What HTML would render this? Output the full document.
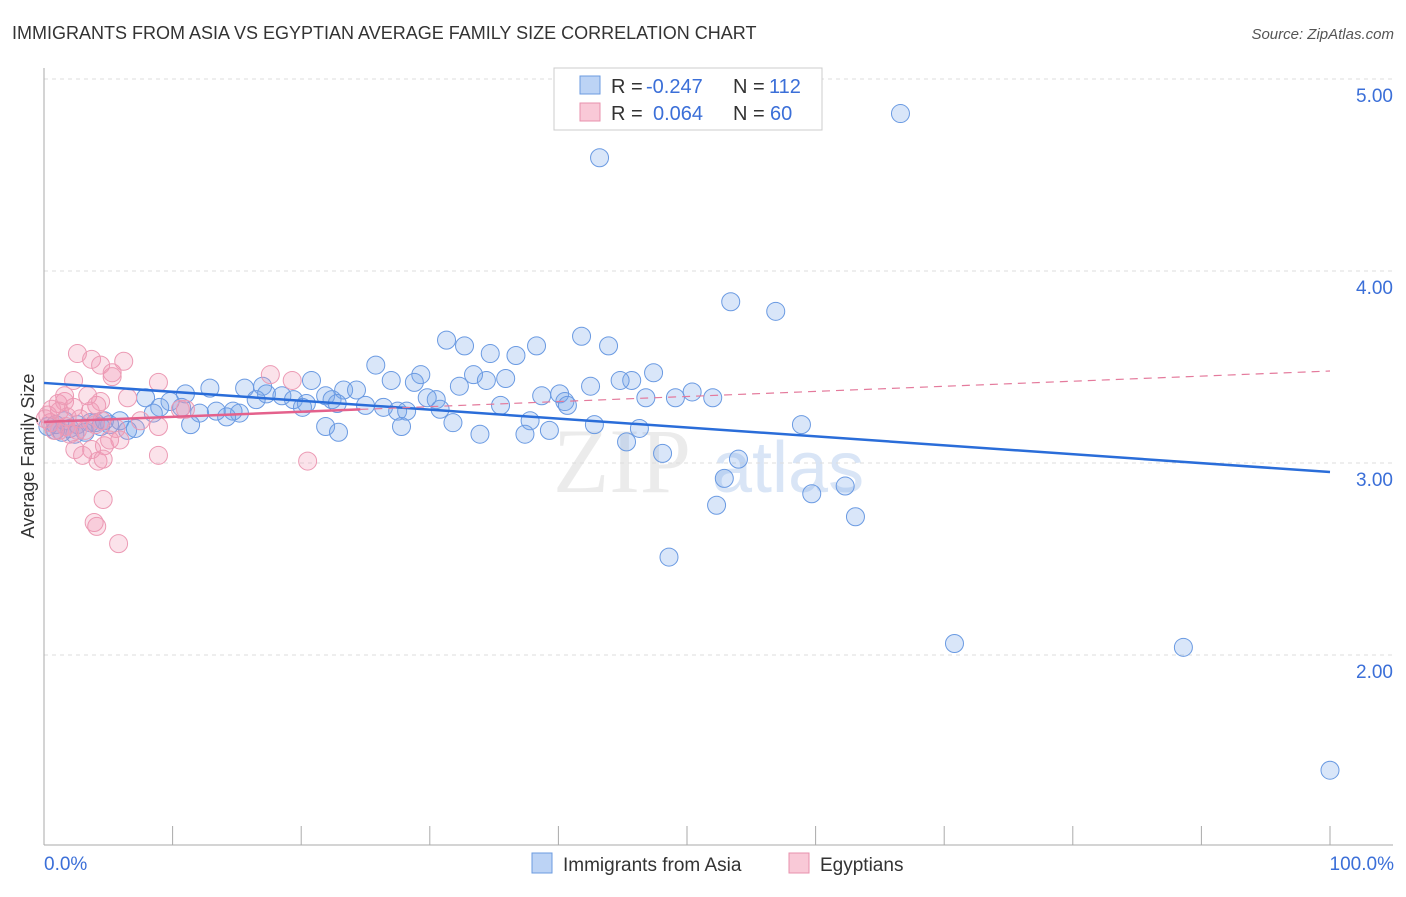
<!DOCTYPE html>
<html><head><meta charset="utf-8"><style>
body{margin:0;background:#fff;font-family:"Liberation Sans",sans-serif}
</style></head><body>
<svg width="1406" height="892" xmlns="http://www.w3.org/2000/svg" id="svg" font-family="Liberation Sans, sans-serif">
<text x="12" y="39" font-size="18" fill="#333">IMMIGRANTS FROM ASIA VS EGYPTIAN AVERAGE FAMILY SIZE CORRELATION CHART</text>
<text x="1394" y="39" font-size="15" fill="#555" font-style="italic" text-anchor="end">Source: ZipAtlas.com</text>
<g><text x="553" y="492" font-size="92" font-family="Liberation Serif, serif" fill="#dcdcdc" opacity="0.55">ZIP</text><text x="712" y="492" font-size="72" fill="#b5cdee" opacity="0.5">atlas</text></g>
<g id="grid"></g><g id="axes"></g><g id="pts"></g><g id="trend"></g>
<text x="34" y="456" font-size="18" fill="#333" text-anchor="middle" transform="rotate(-90 34 456)">Average Family Size</text>
<text x="44" y="870" font-size="19" fill="#3b6fd8">0.0%</text>
<text x="1394" y="870" font-size="19" fill="#3b6fd8" text-anchor="end">100.0%</text>
<g>
<rect x="554" y="68" width="268" height="62" fill="#fff" stroke="#ccc"/>
<rect x="580" y="76" width="20" height="18" fill="#bcd3f5" stroke="#6b9be0"/>
<rect x="580" y="103" width="20" height="18" fill="#f9c9d7" stroke="#e891ad"/>
<g font-size="20" fill="#333">
<text x="611" y="93">R =</text><text x="646" y="93" fill="#3b6fd8">-0.247</text><text x="733" y="93">N =</text><text x="769" y="93" fill="#3b6fd8">112</text>
<text x="611" y="120">R =</text><text x="653" y="120" fill="#3b6fd8">0.064</text><text x="733" y="120">N =</text><text x="770" y="120" fill="#3b6fd8">60</text>
</g>
</g>
<g>
<rect x="532" y="853" width="20" height="20" fill="#bcd3f5" stroke="#6b9be0"/>
<text x="563" y="871" font-size="19" fill="#333">Immigrants from Asia</text>
<rect x="789" y="853" width="20" height="20" fill="#f9c9d7" stroke="#e891ad"/>
<text x="820" y="871" font-size="19" fill="#333">Egyptians</text>
</g>
</svg>
<script>
const yTicks=[5,4,3,2];
const yTickLabels=["5.00","4.00","3.00","2.00"];
const xTicks=[0,10,20,30,40,50,60,70,80,90,100];
const asiaX=[66.6,43.2,53.4,56.9,41.8,31.3,32.7,38.3,43.9,34.7,36.7,25.8,47.4,33.4,29.3,45.7,34.4,35.9,44.8,27.0,20.8,28.8,32.3,42.5,12.9,15.6,17.0,11.0,17.3,18.5,23.3,24.3,21.9,50.4,52.0,40.1,38.7,46.8,49.1,40.5,40.7,30.5,29.8,16.5,19.4,20.4,20.1,22.4,22.8,25.0,26.4,27.5,28.2,30.8,35.5,7.9,9.8,9.0,8.5,10.7,12.1,13.4,15.2,14.7,14.2,11.4,37.8,31.8,27.8,42.8,58.9,46.3,21.9,22.9,33.9,37.4,39.3,45.3,48.1,54.0,52.9,59.7,62.3,52.3,63.1,48.6,70.8,88.6,100,0.9,1.4,2.0,2.6,3.6,4.4,5.1,5.9,6.5,7.1,0.9,1.6,3.2,4.0,4.7,2.4,0.3];
const asiaY=[4.82,4.59,3.84,3.79,3.66,3.64,3.61,3.61,3.61,3.57,3.56,3.51,3.47,3.46,3.46,3.43,3.43,3.44,3.43,3.43,3.43,3.42,3.40,3.40,3.39,3.39,3.40,3.36,3.36,3.35,3.38,3.38,3.35,3.37,3.34,3.36,3.35,3.34,3.34,3.32,3.30,3.33,3.34,3.33,3.33,3.31,3.29,3.33,3.31,3.30,3.29,3.27,3.27,3.28,3.30,3.34,3.32,3.29,3.26,3.29,3.26,3.27,3.26,3.27,3.24,3.20,3.22,3.21,3.19,3.20,3.20,3.18,3.19,3.16,3.15,3.15,3.17,3.11,3.05,3.02,2.92,2.84,2.88,2.78,2.72,2.51,2.06,2.04,1.40,3.17,3.16,3.18,3.20,3.21,3.19,3.20,3.22,3.17,3.18,3.20,3.22,3.16,3.21,3.22,3.15,3.19];
const egX=[2.6,3.7,4.4,5.3,6.2,2.3,5.3,8.9,17.6,19.3,3.4,4.4,6.5,4.1,1.1,1.6,2.3,1.2,1.8,2.8,3.6,4.5,1.7,2.6,4.0,0.8,0.5,0.3,3.2,5.6,7.5,8.9,10.6,5.9,4.7,3.7,2.4,3.0,4.2,4.6,8.9,20.5,4.6,3.9,4.1,5.8,11.0,1.2,2.0,0.1,0.6,1.6,5.1];
const egY=[3.57,3.54,3.51,3.47,3.53,3.43,3.45,3.42,3.46,3.43,3.35,3.32,3.34,3.30,3.31,3.32,3.29,3.27,3.24,3.23,3.27,3.22,3.19,3.17,3.20,3.17,3.21,3.25,3.17,3.18,3.22,3.19,3.28,3.12,3.09,3.07,3.07,3.04,3.01,3.02,3.04,3.01,2.81,2.69,2.67,2.58,3.28,3.17,3.15,3.23,3.28,3.35,3.12];
const asiaTrend=[3.417,2.953];
const egTrend=[3.214,3.479];
const egSolidEnd=24.6;

const NS="http://www.w3.org/2000/svg";
const X0=44,XW=1286,Y3=463,YU=192;
const sx=v=>X0+v/100*XW;
const sy=v=>Y3-(v-3)*YU;
function mk(tag,attrs,parent){const e=document.createElementNS(NS,tag);for(const k in attrs)e.setAttribute(k,attrs[k]);document.getElementById(parent).appendChild(e);return e;}
yTicks.forEach((t,i)=>{
  const l=mk('line',{x1:44,x2:1393,y1:sy(t),y2:sy(t),stroke:'#ddd','stroke-dasharray':'4,4'},'grid');
  
  
  const tx=mk('text',{x:1393,y:sy(t)+23,'font-size':19,fill:'#3b6fd8','text-anchor':'end'},'grid');
  tx.textContent=yTickLabels[i];
  
  
});
const ax=mk('line',{x1:44,x2:44,y1:68,y2:845,stroke:'#aaa'},'axes');


const bx=mk('line',{x1:44,x2:1393,y1:845,y2:845,stroke:'#aaa'},'axes');


xTicks.forEach(t=>{
  const l=mk('line',{x1:sx(t),x2:sx(t),y1:826,y2:845,stroke:'#aaa'},'axes');
  
  
});
asiaX.forEach((v,i)=>{
  const c=mk('circle',{cx:sx(v),cy:sy(asiaY[i]),r:9,fill:'rgba(120,165,235,0.28)',stroke:'#6a9ae2','stroke-width':1},'pts');
  
  
});
egX.forEach((v,i)=>{
  const c=mk('circle',{cx:sx(v),cy:sy(egY[i]),r:9,fill:'rgba(242,150,178,0.28)',stroke:'#ec9ab4','stroke-width':1},'pts');
  
  
});
const bt=mk('line',{x1:sx(0),y1:sy(asiaTrend[0]),x2:sx(100),y2:sy(asiaTrend[1]),stroke:'#2a6dd9','stroke-width':2.5},'trend');


const pAt=v=>egTrend[0]+(egTrend[1]-egTrend[0])*v/100;
const pd=mk('line',{x1:sx(egSolidEnd),y1:sy(pAt(egSolidEnd)),x2:sx(100),y2:sy(egTrend[1]),stroke:'#e47a9c','stroke-width':1.2,'stroke-dasharray':'8,6'},'trend');


const ps=mk('line',{x1:sx(0),y1:sy(egTrend[0]),x2:sx(egSolidEnd),y2:sy(pAt(egSolidEnd)),stroke:'#e4618c','stroke-width':2.5},'trend');


</script>
</body></html>
